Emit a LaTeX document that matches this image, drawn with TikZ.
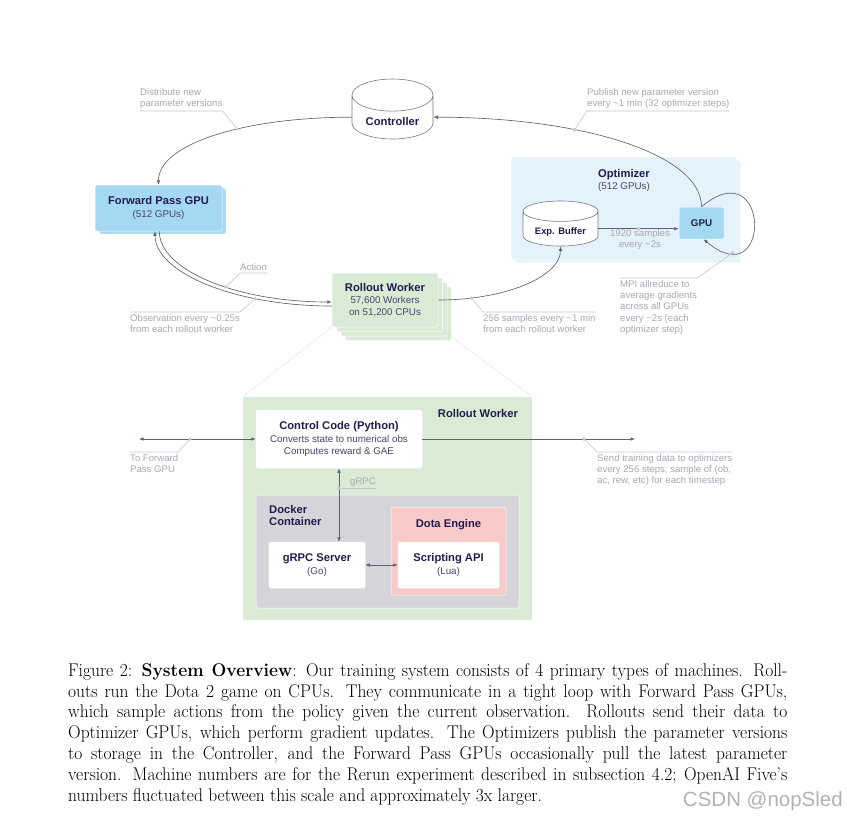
\documentclass[tikz,border=0pt]{standalone}
\usepackage{graphicx}
\usepackage{fontspec}
\newfontfamily\dfont{Liberation Sans}
\usetikzlibrary{arrows.meta,positioning,shapes.geometric,shadows}

\definecolor{navy}{RGB}{32,29,78}
\definecolor{subnavy}{RGB}{72,69,102}
\definecolor{lblgray}{RGB}{168,167,181}
\definecolor{leadgray}{RGB}{198,198,207}
\definecolor{linegray}{RGB}{98,96,114}
\definecolor{fpblue}{RGB}{164,216,243}
\definecolor{optblue}{RGB}{227,242,251}
\definecolor{rwgreen}{RGB}{217,235,213}
\definecolor{dockgray}{RGB}{213,213,217}
\definecolor{dotapink}{RGB}{247,201,201}

\newcommand{\ttl}[1]{{\fontsize{11.2}{13.5}\selectfont\bfseries\color{navy}#1}}
\newcommand{\boxf}{\dfont\fontsize{9.8}{12.4}\selectfont}
\newcommand{\notef}{\dfont\fontsize{9.6}{11.4}\selectfont}

\tikzset{
  box/.style={draw=white, line width=0.5pt, rounded corners=1.5pt, align=center,
    inner sep=0pt, font=\boxf, text=subnavy},
  cyl/.style={cylinder, shape border rotate=90, draw=linegray!85, line width=0.6pt,
    fill=white, font=\boxf, inner sep=0pt},
  conn/.style={draw=linegray, line width=0.65pt},
  tip/.style={-{Latex[length=4.5pt,width=3.6pt]}},
  tips/.style={{Latex[length=4.5pt,width=3.6pt]}-{Latex[length=4.5pt,width=3.6pt]}},
  lead/.style={draw=leadgray, line width=0.6pt},
  note/.style={font=\notef, text=lblgray, align=left, inner xsep=0pt, inner ysep=2pt},
  dot/.style={circle, fill=leadgray, inner sep=0pt, minimum size=3.6pt},
  zoomline/.style={draw=lblgray, line width=0.4pt, densely dotted}
}

\begin{document}
\begin{tikzpicture}[x=1pt,y=-1pt]
\useasboundingbox (0,0) rectangle (847,823);

% optimizer panel
\node[box, fill=optblue, minimum width=226pt, minimum height=102pt,
  copy shadow={shadow xshift=3.5pt, shadow yshift=-3.5pt}] (opt) at (624,208) {};
\node[font=\boxf, text=subnavy, align=center] (optlab) at (624,180.5) {\ttl{Optimizer}\\(512 GPUs)};

% machines
\node[cyl, aspect=0.6, minimum width=81pt, minimum height=60pt, anchor=shape center] (controller) at (392.5,109) {\ttl{\raisebox{-4.5pt}[\height][\depth]{Controller}}};
\node[box, fill=fpblue, minimum width=127pt, minimum height=46pt,
  copy shadow={shadow xshift=4pt, shadow yshift=-3pt}] (fp) at (158.5,208) {\ttl{Forward Pass GPU}\\(512 GPUs)};
\node[box, fill=fpblue, minimum width=45pt, minimum height=32pt] (gpu) at (701.5,223) {\ttl{\fontsize{9.8}{12}\selectfont GPU}};
\node[cyl, aspect=0.4, minimum width=75pt, minimum height=45pt, anchor=shape center] (buf) at (560.5,223.5) {\ttl{\fontsize{9.4}{12}\selectfont\raisebox{-3.5pt}[\height][\depth]{Exp. Buffer}}};
\node[box, fill=rwgreen, minimum width=106pt, minimum height=54pt,
  copy shadow={shadow xshift=13.5pt, shadow yshift=-13.5pt},
  copy shadow={shadow xshift=9pt, shadow yshift=-9pt},
  copy shadow={shadow xshift=4.5pt, shadow yshift=-4.5pt}] (rw) at (385,300) {\ttl{Rollout Worker}\\57,600 Workers\\on 51,200 CPUs};

% outer loop
\draw[conn, tip] (controller.west) to[out=180, in=90, out distance=107pt, in distance=41pt]
  coordinate[pos=0.4] (distdot) (fp.north);
\draw[conn, tip] (gpu.north) to[out=90, in=0, out distance=53pt, in distance=148pt]
  coordinate[pos=0.65] (pubdot) (controller.east);
\draw[conn, tip] ([xshift=0.8pt]fp.south) to[out=-90, in=180, out distance=39pt, in distance=95pt]
  coordinate[pos=0.58] (actdot) ([yshift=-2pt]rw.west);
\draw[conn, tip] ([yshift=-6pt]rw.west) to[out=180, in=-90, out distance=98pt, in distance=41pt]
  coordinate[pos=0.28] (obsdot) ([xshift=-3.5pt]fp.south);
\draw[conn, tip] (rw.east) to[out=0, in=-90, out distance=68pt, in distance=30pt]
  coordinate[pos=0.17] (smpdot) (buf.south);
\draw[conn, tip] (buf.east) -- coordinate[pos=0.5] (bufdot) (buf.east -| gpu.west);
\draw[conn, tip] (gpu.north) to[out=40, in=-40, out distance=90pt, in distance=90pt]
  coordinate[pos=0.83] (mpidot) ([xshift=2pt]gpu.south);

% notes on the loop
\node[note, anchor=south west] (distlab) at (140,111) {Distribute new\\parameter versions};
\node[note, anchor=south west] (publab) at (587,111) {Publish new parameter version\\every \textasciitilde1 min (32 optimizer steps)};
\node[note, anchor=south west] (actlab) at (240,273) {Action};
\node[note, anchor=north west] (obslab) at (130,312) {Observation every \textasciitilde0.25s\\from each rollout worker};
\node[note, anchor=north west] (smplab) at (483,312) {256 samples every \textasciitilde1 min\\from each rollout worker};
\node[note, anchor=north west] (mpilab) at (620,278) {MPI allreduce to\\average gradients\\across all GPUs\\every \textasciitilde2s (each\\optimizer step)};
\node[note, anchor=north, align=center] (buflab) at (640,227) {1920 samples\\every \textasciitilde2s};

\draw[lead] (distdot) -- (distlab.south east) -- (distlab.south west);
\draw[lead] (pubdot) -- (publab.south west) -- (publab.south east);
\draw[lead] (actdot) -- (actlab.south west) -- (actlab.south east);
\draw[lead] (obsdot) -- (obslab.north east) -- (obslab.north west);
\draw[lead] (smpdot) -- (smplab.north west) -- (smplab.north east);
\draw[lead] (mpidot) -- (mpilab.north east) -- (mpilab.north west);

\foreach \d in {distdot,pubdot,actdot,obsdot,smpdot,bufdot,mpidot}
  \node[dot] (\d-m) at (\d) {};

% rollout worker in detail
\node[box, fill=rwgreen, draw=none, minimum width=289pt, minimum height=223pt] (rwbig) at (387.5,508.5) {};
\draw[zoomline] (rw.south west) -- (rwbig.north west);
\draw[zoomline] (rw.south east) -- (rwbig.north east);
\node[font=\boxf] (rwbiglab) at (478,413) {\ttl{Rollout Worker}};
\node[box, fill=white, minimum width=166pt, minimum height=58pt] (ccode) at (339,439)
  {\ttl{Control Code (Python)}\\Converts state to numerical obs\\Computes reward \& GAE};
\node[box, fill=dockgray, minimum width=263pt, minimum height=113pt] (docker) at (387.5,551.5) {};
\node[font=\boxf, anchor=north west, align=left, inner sep=0pt] (dockerlab) at (269,505) {\ttl{Docker}\\\ttl{Container}};
\node[box, fill=dotapink, minimum width=115pt, minimum height=88pt] (dota) at (448.5,551) {};
\node[font=\boxf] (dotalab) at (448.5,525) {\ttl{Dota Engine}};
\node[box, fill=white, minimum width=101pt, minimum height=46pt] (script) at (448.5,565) {\ttl{Scripting API}\\(Lua)};
\node[box, fill=white, minimum width=96pt, minimum height=46pt] (grpc) at (317,565) {\ttl{gRPC Server}\\(Go)};

\coordinate (tofwd) at (139,439);
\coordinate (toopt) at (635,439);
\draw[conn, tips] (tofwd) -- coordinate[pos=0.436] (fwddot) (ccode.west);
\draw[conn, tip] (ccode.east) -- coordinate[pos=0.76] (optdot) (toopt);
\draw[conn, tips] (ccode.south) -- coordinate[pos=0.27] (rpcdot) (ccode.south |- grpc.north);
\draw[conn, tips] (grpc.east) -- (script.west);

\node[note, anchor=north west] (fwdlab) at (130,452) {To Forward\\Pass GPU};
\node[note, anchor=north west] (optlab2) at (597,452) {Send training data to optimizers\\every 256 steps; sample of (ob,\\ac, rew, etc) for each timestep};
\node[note, anchor=south west] (rpclab) at (350,489) {gRPC};
\draw[lead] (fwddot) -- (fwdlab.north east) -- (fwdlab.north west);
\draw[lead] (optdot) -- (optlab2.north west) -- (optlab2.north east);
\draw[lead] (rpcdot) -- (rpcdot -| rpclab.south east);
\foreach \d in {fwddot,optdot,rpcdot}
  \node[dot] (\d-m) at (\d) {};

% caption
\node[anchor=north west, inner sep=0pt] (caption) at (68,663) {\scalebox{0.95}[1]{\parbox{757pt}{\fontsize{18.4}{20.9}\selectfont
Figure 2: \textbf{System Overview}: Our training system consists of 4 primary types of machines. Roll-\linebreak
outs run the Dota 2 game on CPUs. They communicate in a tight loop with Forward Pass GPUs,\linebreak
which sample actions from the policy given the current observation. Rollouts send their data to\linebreak
Optimizer GPUs, which perform gradient updates. The Optimizers publish the parameter versions\linebreak
to storage in the Controller, and the Forward Pass GPUs occasionally pull the latest parameter\linebreak
version. Machine numbers are for the Rerun experiment described in subsection 4.2; OpenAI Five's\linebreak
numbers fluctuated between this scale and approximately 3x larger.}}};
\node[anchor=east, font=\dfont\fontsize{20.5}{22}\selectfont, text=black!30, inner sep=0pt] (mark) at (843,801) {CSDN @nopSled};
\end{tikzpicture}
\end{document}
